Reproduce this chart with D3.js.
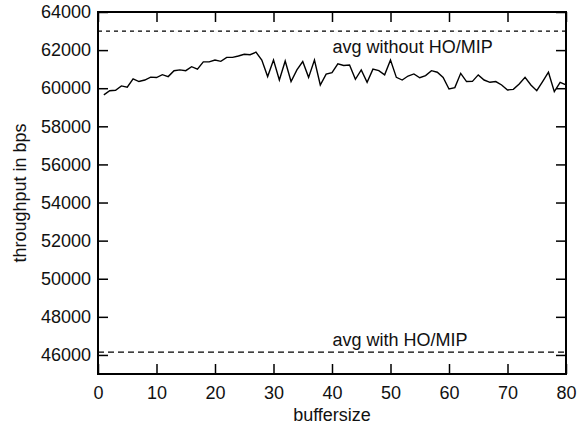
<!DOCTYPE html>
<html>
<head>
<meta charset="utf-8">
<script src="https://cdn.jsdelivr.net/npm/d3@7"></script>
<style>
  body { margin: 0; background: #fff; }
  svg { font-family: "Liberation Sans", Arial, Helvetica, sans-serif; }
  .axis path { display: none; }
  .axis line { stroke: #000; stroke-width: 1.5; }
  .axis text { font-size: 18px; fill: #111; }
</style>
</head>
<body>
<div id="chart"></div>
<script>
// buffersize (x) and measured throughput (y)
var bufferSizes = [1,2,3,4,5,6,7,8,9,10,11,12,13,14,15,16,17,18,19,20,
    21,22,23,24,25,26,27,28,29,30,31,32,33,34,35,36,37,38,39,40,
    41,42,43,44,45,46,47,48,49,50,51,52,53,54,55,56,57,58,59,60,
    61,62,63,64,65,66,67,68,69,70,71,72,73,74,75,76,77,78,79,80];
var throughput = [59650,59870,59890,60120,60050,60490,60350,60430,60580,60560,
    60710,60610,60920,60960,60920,61130,61000,61380,61380,61480,
    61410,61620,61620,61690,61780,61760,61890,61480,60610,61480,
    60430,61430,60350,60960,61400,60570,61480,60170,60740,60820,
    61280,61190,61220,60470,60960,60310,61000,60920,60700,61480,
    60570,60430,60640,60750,60550,60660,60920,60840,60570,59960,
    60030,60780,60350,60360,60700,60430,60310,60350,60170,59910,
    59940,60220,60570,60170,59870,60350,60840,59820,60310,60170];

// reference averages
var avgWithout = 63000;
var avgWith = 46150;
var avgLabels = ["avg without HO/MIP", "avg with HO/MIP"];

var xTicks = [0,10,20,30,40,50,60,70,80];
var yTicks = [46000,48000,50000,52000,54000,56000,58000,60000,62000,64000];

var margin = { top: 12, right: 20, bottom: 52, left: 98 };
var width = 586 - margin.left - margin.right;
var height = 426 - margin.top - margin.bottom;

var svg = d3.select("#chart").append("svg")
    .attr("width", 586)
    .attr("height", 426)
    .append("g")
    .attr("transform", "translate(" + margin.left + "," + margin.top + ")");

var x = d3.scaleLinear().domain([0, 80]).range([0, width]);
var y = d3.scaleLinear().domain([45000, 64000]).range([height, 0]);

// axes, ticks pointing inward on all four sides
svg.append("g")
    .attr("class", "axis")
    .attr("transform", "translate(0," + height + ")")
    .call(d3.axisBottom(x).tickValues(xTicks).tickSize(-10).tickPadding(12));

svg.append("g")
    .attr("class", "axis")
    .call(d3.axisTop(x).tickValues(xTicks).tickSize(-10).tickFormat(""));

svg.append("g")
    .attr("class", "axis")
    .call(d3.axisLeft(y).tickValues(yTicks).tickSize(-10).tickPadding(7)
        .tickFormat(d3.format("d")));

svg.append("g")
    .attr("class", "axis")
    .attr("transform", "translate(" + width + ",0)")
    .call(d3.axisRight(y).tickValues(yTicks).tickSize(-10).tickFormat(""));

// frame
svg.append("rect")
    .attr("width", width)
    .attr("height", height)
    .attr("fill", "none")
    .attr("stroke", "#000")
    .attr("stroke-width", 2);

// average lines
svg.append("line")
    .attr("x1", 0).attr("x2", width)
    .attr("y1", y(avgWithout)).attr("y2", y(avgWithout))
    .attr("stroke", "#000")
    .attr("stroke-width", 1.2)
    .attr("stroke-dasharray", "4,4");

svg.append("line")
    .attr("x1", 0).attr("x2", width)
    .attr("y1", y(avgWith)).attr("y2", y(avgWith))
    .attr("stroke", "#000")
    .attr("stroke-width", 1.2)
    .attr("stroke-dasharray", "6,4");

svg.append("text")
    .attr("x", x(40.1))
    .attr("y", y(avgWithout) + 22)
    .attr("font-size", "18px")
    .attr("fill", "#111")
    .text(avgLabels[0]);

svg.append("text")
    .attr("x", x(40.1))
    .attr("y", y(avgWith) - 6)
    .attr("font-size", "18px")
    .attr("fill", "#111")
    .text(avgLabels[1]);

// data line
var data = bufferSizes.map(function(d, i) { return { b: d, t: throughput[i] }; });

var line = d3.line()
    .x(function(d) { return x(d.b); })
    .y(function(d) { return y(d.t); });

svg.append("path")
    .datum(data)
    .attr("d", line)
    .attr("fill", "none")
    .attr("stroke", "#000")
    .attr("stroke-width", 1.4);

// axis titles
svg.append("text")
    .attr("x", width / 2)
    .attr("y", height + 47)
    .attr("text-anchor", "middle")
    .attr("font-size", "18px")
    .attr("fill", "#111")
    .text("buffersize");

svg.append("text")
    .attr("transform", "translate(" + (-72) + "," + (height / 2) + ") rotate(-90)")
    .attr("text-anchor", "middle")
    .attr("font-size", "18px")
    .attr("fill", "#111")
    .text("throughput in bps");
</script>
</body>
</html>
